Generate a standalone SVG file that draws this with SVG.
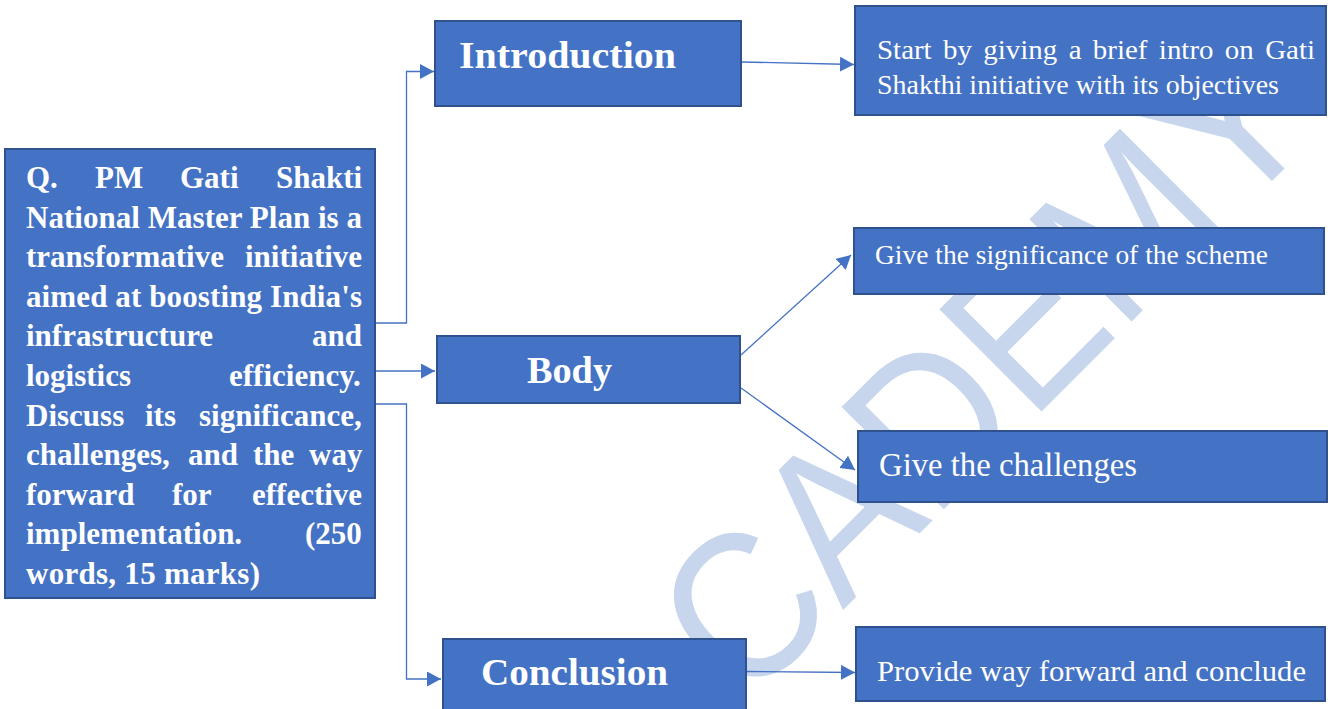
<svg xmlns="http://www.w3.org/2000/svg" width="1330" height="709" viewBox="0 0 1330 709">
<defs>
<style>
.box{fill:#4472C4;stroke:#2F528F;stroke-width:2}
.b{font-family:"Liberation Serif","Times New Roman",serif;font-weight:bold;fill:#FFFFFF}
.r{font-family:"Liberation Serif","Times New Roman",serif;font-weight:normal;fill:#FFFFFF}
.q{font-size:31px}
.h{font-size:37px}
.c{fill:none;stroke:#4472C4;stroke-width:1.3}
.wm{font-family:"Liberation Sans",Arial,sans-serif;font-size:210px;fill:#C7D5ED}
</style>
<marker id="ah" markerUnits="userSpaceOnUse" markerWidth="14" markerHeight="16" refX="14" refY="7.5" orient="auto">
<path d="M0,0 L14,7.5 L0,15 z" fill="#4472C4"/>
</marker>
</defs>
<rect width="1330" height="709" fill="#FFFFFF"/>
<g id="watermark">
<text class="wm" transform="translate(745,708) rotate(-45)" x="0" y="0" textLength="818" lengthAdjust="spacingAndGlyphs">CADEMY</text>
</g>
<g id="connectors">
<path class="c" d="M376,323 H406.5 V71.5 H434" marker-end="url(#ah)"/>
<path class="c" d="M376,371 H435" marker-end="url(#ah)"/>
<path class="c" d="M376,404 H406.5 V679 H441" marker-end="url(#ah)"/>
<path class="c" d="M742,62 L854,64.5" marker-end="url(#ah)"/>
<path class="c" d="M741,355 L851,255" marker-end="url(#ah)"/>
<path class="c" d="M741,388 L855,470" marker-end="url(#ah)"/>
<path class="c" d="M747,671.5 L855,672.5" marker-end="url(#ah)"/>
</g>
<g id="question">
<rect class="box" x="5" y="149" width="370" height="449"/>
<text class="b q" y="188"><tspan x="26">Q.</tspan><tspan x="95">PM</tspan><tspan x="180">Gati</tspan><tspan x="276">Shakti</tspan></text>
<text class="b q" x="26" y="227.6" textLength="336" lengthAdjust="spacing">National Master Plan is a</text>
<text class="b q" y="267.2"><tspan x="26">transformative</tspan><tspan x="245">initiative</tspan></text>
<text class="b q" x="26" y="306.8" textLength="336" lengthAdjust="spacing">aimed at boosting India's</text>
<text class="b q" y="346.4"><tspan x="26">infrastructure</tspan><tspan x="312">and</tspan></text>
<text class="b q" y="386"><tspan x="26">logistics</tspan><tspan x="229">efficiency.</tspan></text>
<text class="b q" y="425.6"><tspan x="26">Discuss</tspan><tspan x="145">its</tspan><tspan x="199">significance,</tspan></text>
<text class="b q" y="465.2"><tspan x="26">challenges,</tspan><tspan x="188">and</tspan><tspan x="253">the</tspan><tspan x="309">way</tspan></text>
<text class="b q" y="504.8"><tspan x="26">forward</tspan><tspan x="172">for</tspan><tspan x="252">effective</tspan></text>
<text class="b q" y="544.4"><tspan x="26">implementation.</tspan><tspan x="305">(250</tspan></text>
<text class="b q" x="26" y="584" textLength="234" lengthAdjust="spacing">words, 15 marks)</text>
</g>
<g id="introduction">
<rect class="box" x="435" y="21" width="306" height="85"/>
<text class="b h" x="459" y="68" textLength="217" lengthAdjust="spacingAndGlyphs">Introduction</text>
</g>
<g id="intro-detail">
<rect class="box" x="855" y="6" width="471" height="109"/>
<text class="r" font-size="28" x="877" y="59" word-spacing="4" textLength="438" lengthAdjust="spacingAndGlyphs">Start by giving a brief intro on Gati</text>
<text class="r" font-size="28" x="877" y="94" textLength="402" lengthAdjust="spacingAndGlyphs">Shakthi initiative with its objectives</text>
</g>
<g id="body">
<rect class="box" x="437" y="336" width="303" height="67"/>
<text class="b h" x="527" y="383" textLength="85" lengthAdjust="spacingAndGlyphs">Body</text>
</g>
<g id="significance">
<rect class="box" x="854" y="228" width="470" height="66"/>
<text class="r" font-size="27.5" x="875" y="264" textLength="393" lengthAdjust="spacingAndGlyphs">Give the significance of the scheme</text>
</g>
<g id="challenges">
<rect class="box" x="858" y="431" width="469" height="71"/>
<text class="r" font-size="33" x="879" y="476" textLength="258" lengthAdjust="spacingAndGlyphs">Give the challenges</text>
</g>
<g id="conclusion">
<rect class="box" x="443" y="639" width="303" height="80"/>
<text class="b h" x="481" y="685" textLength="187" lengthAdjust="spacingAndGlyphs">Conclusion</text>
</g>
<g id="conclusion-detail">
<rect class="box" x="856" y="627" width="469" height="74"/>
<text class="r" font-size="29" x="877" y="681" textLength="429" lengthAdjust="spacingAndGlyphs">Provide way forward and conclude</text>
</g>
</svg>
